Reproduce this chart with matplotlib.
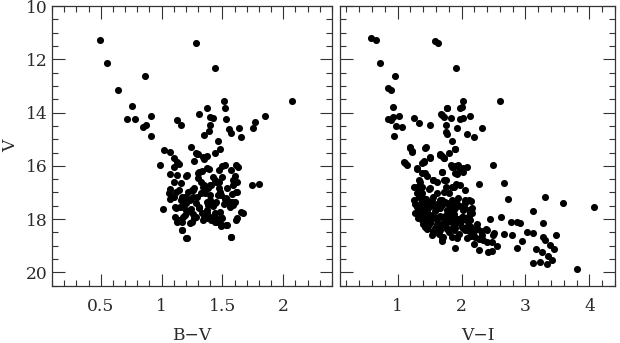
import matplotlib
matplotlib.use("Agg")
import matplotlib.pyplot as plt
from matplotlib.ticker import MultipleLocator

# Left panel: B-V colour (rows of 10, aligned with v_left)
bv = [
    0.495, 0.552, 0.64, 0.86, 1.28, 1.44, 2.07, 0.76, 0.72, 0.785,
    0.91, 0.85, 0.875, 0.91, 1.125, 1.16, 1.31, 1.37, 1.40, 1.42,
    1.40, 1.39, 1.35, 1.51, 1.52, 1.53, 1.55, 1.57, 1.64, 1.65,
    1.755, 1.77, 1.85, 1.46, 1.48, 1.44, 1.24, 1.27, 1.28, 1.30,
    1.35, 1.37, 1.02, 1.07, 0.99, 1.10, 1.125, 1.14, 1.07, 1.10,
    1.16, 1.20, 1.10, 1.015, 1.07, 1.06, 1.08, 1.07, 1.12, 1.14,
    1.17, 1.15, 1.11, 1.13, 1.17, 1.17, 1.20, 1.19, 1.20, 1.24,
    1.25, 1.26, 1.28, 1.31, 1.33, 1.35, 1.37, 1.41, 1.44, 1.45,
    1.44, 1.49, 1.50, 1.54, 1.57, 1.62, 1.67, 1.62, 1.62, 1.63,
    1.61, 1.60, 1.59, 1.58, 1.58, 1.54, 1.52, 1.51, 1.48, 1.47,
    1.47, 1.47, 1.50, 1.52, 1.57, 1.745, 1.80, 1.42, 1.44, 1.40,
    1.38, 1.36, 1.35, 1.32, 1.30, 1.30, 1.33, 1.37, 1.39, 1.27,
    1.25, 1.26, 1.23, 1.19, 1.40, 1.38, 1.42, 1.44, 1.46, 1.54,
    1.50, 1.55, 1.56, 1.32, 1.22, 1.18, 1.12, 1.20, 1.10, 1.37,
    1.28, 1.48, 1.60, 1.16, 1.29, 1.34, 1.59, 1.125, 1.21, 1.31,
    1.11, 1.18, 1.21, 1.18, 1.14, 1.23, 1.29, 1.26, 1.34, 1.41,
    1.45, 1.40, 1.37, 1.45, 1.49, 1.53, 1.56, 1.61, 1.59, 1.61,
    1.65, 1.49, 1.48, 1.53, 1.57, 1.21, 1.17, 1.23, 1.27, 1.34,
    1.40, 1.44, 1.37, 1.31,
]
v_left = [
    11.28, 12.14, 13.14, 12.63, 11.40, 12.32, 13.58, 13.77, 14.23, 14.26,
    14.13, 14.53, 14.47, 14.89, 14.28, 14.48, 14.07, 13.82, 14.18, 14.22,
    14.46, 14.69, 14.83, 13.58, 13.83, 14.24, 14.63, 14.76, 14.58, 14.93,
    14.58, 14.36, 14.12, 15.07, 15.38, 15.51, 15.31, 15.81, 15.53, 15.57,
    15.76, 15.62, 15.42, 15.47, 15.98, 15.71, 15.84, 15.94, 16.30, 16.60,
    16.63, 16.37, 16.06, 17.61, 16.88, 17.03, 17.16, 17.25, 16.99, 16.91,
    17.16, 17.53, 17.93, 18.12, 18.10, 18.41, 18.70, 17.85, 17.41, 17.63,
    18.12, 17.81, 17.91, 17.53, 17.78, 17.95, 17.97, 18.04, 17.97, 18.10,
    17.78, 18.25, 17.94, 18.22, 18.67, 17.94, 17.78, 16.99, 16.60, 16.03,
    15.97, 16.38, 16.72, 17.06, 17.37, 17.28, 17.26, 17.43, 16.97, 16.82,
    16.62, 16.16, 16.01, 15.97, 16.16, 16.72, 16.70, 16.41, 16.53, 16.72,
    16.85, 17.01, 16.72, 16.60, 16.47, 16.26, 16.18, 16.10, 16.11, 16.85,
    16.91, 17.16, 17.26, 17.16, 17.28, 17.47, 17.50, 17.38, 17.10, 16.85,
    16.41, 17.41, 17.53, 17.03, 16.97, 17.41, 17.60, 17.66, 17.16, 17.78,
    17.41, 17.72, 17.35, 17.28, 15.56, 15.68, 16.53, 16.35, 16.35, 16.22,
    17.54, 17.54, 17.72, 17.91, 18.04, 17.28, 17.16, 16.91, 16.79, 16.72,
    16.60, 17.10, 17.35, 17.35, 17.10, 17.22, 17.35, 16.97, 17.47, 18.04,
    17.72, 17.91, 18.16, 18.22, 18.66, 18.72, 18.41, 18.16, 17.97, 18.04,
    17.91, 18.10, 17.66, 17.60,
]

# Right panel: V-I colour (rows of 10, aligned with v_right)
vi = [
    0.583, 0.66, 0.72, 0.96, 0.85, 0.90, 1.59, 1.64, 1.91, 2.60,
    2.02, 0.93, 1.98, 1.78, 2.14, 0.85, 0.93, 1.03, 0.90, 0.97,
    1.07, 0.95, 1.26, 1.34, 1.51, 1.68, 1.73, 1.83, 1.97, 2.02,
    1.76, 1.93, 2.32, 2.08, 2.20, 1.75, 1.77, 1.85, 1.20, 1.23,
    1.44, 1.90, 1.80, 1.66, 1.70, 1.72, 1.51, 1.41, 1.10, 1.15,
    1.38, 1.30, 2.50, 1.84, 1.90, 1.97, 2.08, 2.02, 1.93, 1.69,
    1.39, 1.46, 1.33, 1.55, 1.61, 1.73, 2.28, 2.67, 1.91, 1.89,
    1.26, 1.35, 1.49, 1.72, 1.81, 1.30, 1.34, 1.45, 1.56, 1.67,
    1.74, 1.92, 2.06, 2.15, 2.72, 3.31, 3.58, 4.07, 3.11, 1.33,
    1.45, 1.67, 1.875, 2.11, 2.17, 1.31, 1.42, 1.54, 1.67, 1.77,
    1.90, 2.03, 2.12, 1.38, 1.51, 1.61, 1.73, 1.85, 1.98, 2.45,
    2.62, 2.77, 2.86, 2.92, 3.27, 1.46, 1.60, 1.77, 1.89, 2.03,
    2.15, 2.24, 2.38, 2.51, 2.67, 2.79, 3.02, 3.125, 3.27, 3.48,
    1.56, 1.71, 1.93, 2.08, 2.21, 2.34, 2.48, 2.56, 1.69, 1.90,
    2.28, 2.41, 2.47, 2.86, 2.94, 3.17, 3.31, 3.38, 3.26, 3.35,
    3.45, 3.41, 3.125, 3.22, 3.33, 3.80, 2.40, 2.50, 1.12, 1.22,
    1.41, 1.30, 1.43, 1.51, 1.67, 1.72, 1.69, 1.56, 1.75, 1.85,
    1.95, 2.03, 1.90, 1.35, 1.30, 1.38, 1.51, 1.62, 1.75, 1.85,
    1.98, 2.06, 2.11, 1.95, 1.85, 1.69, 1.54, 1.41, 1.33, 1.48,
    1.64, 1.77, 1.90, 2.03, 2.16, 1.38, 1.54, 1.69, 1.85, 2.01,
    2.14, 1.43, 1.59, 1.75, 1.90, 2.06, 1.54, 1.69, 1.85, 1.69,
    1.77, 2.01, 1.20, 1.43, 1.90, 1.38, 1.33, 1.40, 1.28, 1.35,
    1.50, 1.77, 1.88, 2.06, 2.14, 1.51, 1.67, 1.69, 1.93, 2.08,
    2.21, 2.32, 2.40, 1.28, 1.36, 1.46, 1.58, 1.62, 1.83, 1.97,
    2.00, 2.10, 2.25, 2.30, 1.40, 1.55, 1.80, 1.96, 2.18, 1.26,
    1.32, 1.45, 1.70, 1.92, 2.20, 1.36, 1.44, 1.52, 1.58, 1.70,
    1.82, 1.93, 2.04, 1.40, 1.50, 1.60, 1.75, 1.88, 1.95, 2.08,
    1.48, 1.62, 1.78, 1.86, 2.00, 2.12, 1.65, 2.15, 2.27, 1.30,
]
v_right = [
    11.19, 11.26, 12.14, 12.63, 13.09, 13.14, 11.31, 11.40, 12.33, 13.57,
    13.58, 13.78, 13.84, 13.82, 14.12, 14.23, 14.16, 14.12, 14.28, 14.51,
    14.56, 14.89, 14.22, 14.41, 14.48, 14.07, 14.16, 14.22, 14.26, 14.22,
    14.47, 14.59, 14.57, 14.82, 14.93, 14.73, 14.82, 15.06, 15.31, 15.43,
    15.29, 15.37, 15.50, 15.56, 15.63, 15.72, 15.66, 15.82, 15.84, 15.97,
    15.91, 16.13, 15.96, 15.97, 16.00, 16.12, 16.06, 16.22, 16.31, 16.22,
    16.26, 16.37, 16.53, 16.53, 16.60, 16.53, 16.70, 16.63, 16.70, 16.81,
    16.78, 16.88, 16.88, 16.97, 17.03, 17.03, 17.16, 17.26, 17.16, 17.28,
    17.37, 17.35, 17.28, 17.32, 17.23, 17.16, 17.38, 17.56, 17.71, 17.60,
    17.63, 17.60, 17.63, 17.66, 17.78, 17.78, 17.88, 17.91, 17.87, 17.91,
    17.97, 17.91, 17.87, 18.04, 18.10, 18.04, 18.14, 18.10, 18.16, 18.01,
    17.93, 18.10, 18.10, 18.14, 18.14, 18.39, 18.32, 18.39, 18.41, 18.35,
    18.28, 18.32, 18.39, 18.54, 18.57, 18.60, 18.47, 18.54, 18.66, 18.60,
    18.54, 18.69, 18.66, 18.72, 18.69, 18.79, 18.87, 19.01, 18.81, 19.07,
    19.16, 19.25, 19.19, 19.10, 18.81, 19.14, 18.79, 18.97, 19.22, 19.39,
    19.14, 19.54, 19.64, 19.62, 19.70, 19.87, 18.42, 18.60, 15.91, 15.47,
    15.85, 16.10, 16.28, 15.72, 15.60, 15.72, 16.22, 16.53, 16.53, 16.03,
    15.97, 16.10, 16.28, 16.60, 16.79, 17.03, 16.85, 17.03, 16.79, 16.79,
    16.72, 16.91, 17.28, 17.22, 17.28, 17.28, 17.28, 17.35, 17.66, 17.60,
    17.60, 17.66, 17.60, 17.66, 17.60, 17.97, 17.91, 17.91, 17.97, 17.91,
    18.04, 18.29, 18.35, 18.29, 18.35, 18.41, 18.60, 18.66, 18.66, 14.09,
    13.84, 13.78, 15.34, 15.34, 15.38, 16.79, 17.10, 17.22, 17.78, 17.54,
    17.50, 17.41, 17.45, 17.41, 17.78, 18.16, 18.41, 18.79, 18.72, 18.29,
    18.41, 18.60, 18.85, 17.45, 17.85, 17.75, 17.70, 17.45, 17.80, 17.50,
    18.05, 18.10, 18.20, 18.45, 18.20, 18.45, 18.50, 18.55, 18.55, 17.30,
    17.95, 18.05, 18.20, 18.15, 18.95, 17.40, 17.45, 17.38, 17.55, 17.48,
    17.55, 17.45, 17.55, 17.65, 17.85, 17.95, 17.85, 17.80, 18.00, 17.95,
    18.25, 18.20, 18.10, 18.30, 18.30, 18.45, 18.55, 18.65, 18.75, 17.55,
]

x_ticks_left = [0.5, 1, 1.5, 2]
x_labels_left = ["0.5", "1", "1.5", "2"]
x_ticks_right = [1, 2, 3, 4]
x_labels_right = ["1", "2", "3", "4"]
y_ticks = [10, 12, 14, 16, 18, 20]
y_labels = ["10", "12", "14", "16", "18", "20"]

plt.rcParams['font.family'] = ['DejaVu Serif']
FS = 12.3
TXT = '#2a2a2a'

fig = plt.figure(figsize=(6.2, 3.43), dpi=100)
axL = fig.add_axes([52/620, 1 - 285.7/343, 280/620, 279.7/343])
axR = fig.add_axes([340/620, 1 - 285.7/343, 275/620, 279.7/343])

for ax in (axL, axR):
    ax.set_ylim(20.5, 10)
    ax.yaxis.set_minor_locator(MultipleLocator(0.5))
    ax.tick_params(which='both', direction='in', top=True, right=True,
                   color='#333333', width=0.8, labelsize=FS, labelcolor=TXT)
    ax.tick_params(which='major', length=9)
    ax.tick_params(which='minor', length=4.5)
    ax.tick_params(axis='x', pad=8.5)
    ax.tick_params(axis='y', pad=3)
    ax.set_yticks(y_ticks)
    for s in ax.spines.values():
        s.set_linewidth(0.9)
        s.set_color('#333333')

axL.scatter(bv, v_left, s=26, color='black', linewidths=0)
axL.set_xlim(0.1, 2.4)
axL.set_xticks(x_ticks_left)
axL.set_xticklabels(x_labels_left)
axL.xaxis.set_minor_locator(MultipleLocator(0.1))
axL.set_yticklabels(y_labels)
axL.set_xlabel("B\u2212V", fontsize=FS, color=TXT, labelpad=9)
axL.set_ylabel("V", fontsize=FS, color=TXT, labelpad=5)

axR.scatter(vi, v_right, s=26, color='black', linewidths=0)
axR.set_xlim(0.1, 4.4)
axR.set_xticks(x_ticks_right)
axR.set_xticklabels(x_labels_right)
axR.xaxis.set_minor_locator(MultipleLocator(0.2))
axR.tick_params(axis='y', labelleft=False)
axR.set_xlabel("V\u2212I", fontsize=FS, color=TXT, labelpad=9)

fig.savefig("out.png", dpi=100)
